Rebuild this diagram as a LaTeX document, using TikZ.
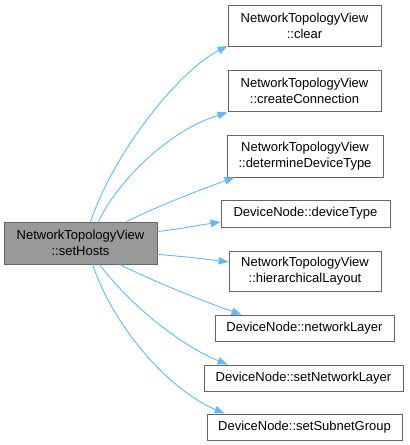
\documentclass[tikz,border=0pt]{standalone}
\usepackage{fontspec}
\setmainfont{Liberation Sans}
\usetikzlibrary{arrows.meta}
\definecolor{edgeblue}{HTML}{63B8FF}
\definecolor{boxborder}{HTML}{666666}
\definecolor{mainfill}{HTML}{999999}
\begin{document}
\begin{tikzpicture}[x=1pt,y=-1pt,
  fn/.style={draw=boxborder,line width=0.9pt,fill=white,rectangle,inner sep=0pt,align=center,
    font=\fontsize{13pt}{16pt}\selectfont},
  mainbox/.style={fn,fill=mainfill},
  call/.style={draw=edgeblue,line width=0.9pt,-{Triangle[length=10pt,width=7.5pt,fill=edgeblue]}}]
\useasboundingbox (0,0) rectangle (410,445);
\node[mainbox,minimum width=153pt,minimum height=42pt] (main) at (80.5,243) {NetworkTopologyView\\::setHosts};
\node[fn,minimum width=153pt,minimum height=41pt] (clear) at (304.5,25.5) {NetworkTopologyView\\::clear};
\node[fn,minimum width=153pt,minimum height=41pt] (cc) at (304.5,90.5) {NetworkTopologyView\\::createConnection};
\node[fn,minimum width=156pt,minimum height=42pt] (ddt) at (305,156) {NetworkTopologyView\\::determineDeviceType};
\node[fn,minimum width=169pt,minimum height=27pt] (dt) at (305.5,213.5) {DeviceNode::deviceType};
\node[fn,minimum width=152pt,minimum height=40pt] (hl) at (305,271) {NetworkTopologyView\\::hierarchicalLayout};
\node[fn,minimum width=179pt,minimum height=26pt] (nl) at (304.5,328) {DeviceNode::networkLayer};
\node[fn,minimum width=199pt,minimum height=26pt] (snl) at (303.5,378) {DeviceNode::setNetworkLayer};
\node[fn,minimum width=195pt,minimum height=26pt] (ssg) at (304.5,427) {DeviceNode::setSubnetGroup};

\draw[call] ([xshift=87pt]main.north west) .. controls (115,150) and (180,70) .. ([yshift=0.5pt]clear.south west);
\draw[call] ([xshift=95pt]main.north west) .. controls (118,180) and (170,130) .. ([yshift=-1pt]cc.south west);
\draw[call] ([xshift=123pt]main.north west) .. controls (160,205) and (205,188) .. ([xshift=8pt]ddt.south west);
\draw[call] ([yshift=-10pt]main.north east) .. controls (180,229) and (200,225) .. ([yshift=-8.5pt]dt.west);
\draw[call] ([yshift=10pt]main.south east) .. controls (180,256) and (205,259) .. ([yshift=9pt]hl.west);
\draw[call] ([xshift=116pt]main.south west) .. controls (155,282) and (205,302) .. ([xshift=27pt]nl.north west);
\draw[call] ([xshift=96pt]main.south west) .. controls (130,305) and (180,345) .. ([xshift=24pt]snl.north west);
\draw[call] ([xshift=89pt]main.south west) .. controls (115,330) and (170,390) .. ([xshift=18pt]ssg.north west);
\end{tikzpicture}
\end{document}
